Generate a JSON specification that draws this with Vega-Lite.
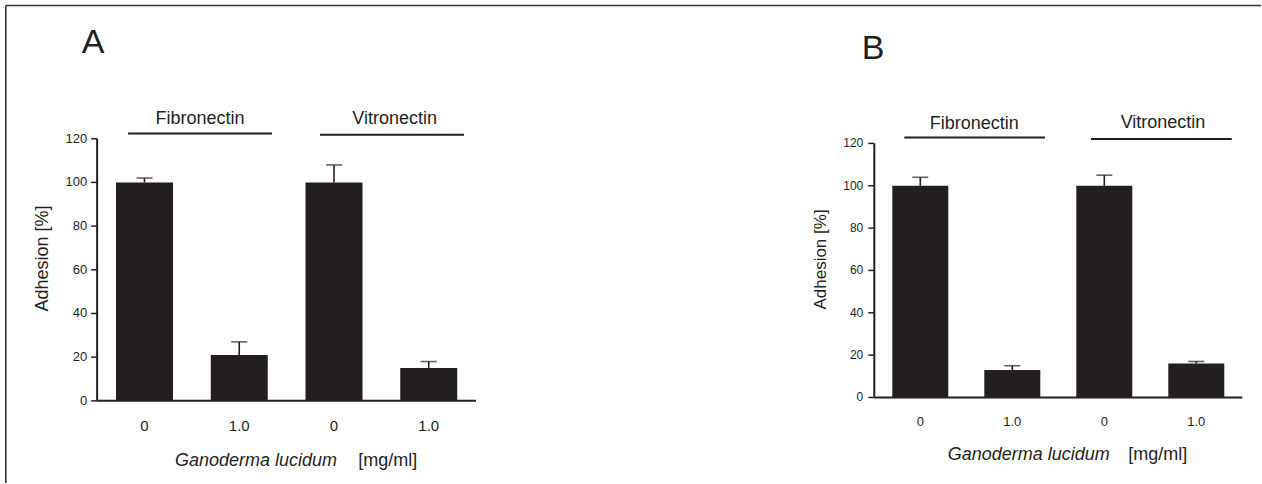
{
  "$schema": "https://vega.github.io/schema/vega-lite/v6.json",
  "width": 1262,
  "height": 484,
  "autosize": {"type": "fit", "contains": "padding"},
  "padding": 0,
  "background": "white",
  "config": {
    "view": {"stroke": null},
    "text": {"font": "Liberation Sans", "color": "#231f20"}
  },
  "datasets": {
    "bars": [
      {"panel": "A", "bar": 1, "matrix": "Fibronectin", "dose": "0", "adhesion": 100, "upper": 102},
      {"panel": "A", "bar": 2, "matrix": "Fibronectin", "dose": "1.0", "adhesion": 21, "upper": 27},
      {"panel": "A", "bar": 3, "matrix": "Vitronectin", "dose": "0", "adhesion": 100, "upper": 108},
      {"panel": "A", "bar": 4, "matrix": "Vitronectin", "dose": "1.0", "adhesion": 15, "upper": 18},
      {"panel": "B", "bar": 1, "matrix": "Fibronectin", "dose": "0", "adhesion": 100, "upper": 104},
      {"panel": "B", "bar": 2, "matrix": "Fibronectin", "dose": "1.0", "adhesion": 13, "upper": 15},
      {"panel": "B", "bar": 3, "matrix": "Vitronectin", "dose": "0", "adhesion": 100, "upper": 105},
      {"panel": "B", "bar": 4, "matrix": "Vitronectin", "dose": "1.0", "adhesion": 16, "upper": 17}
    ],
    "yticks": [
      {"value": 0}, {"value": 20}, {"value": 40}, {"value": 60}, {"value": 80}, {"value": 100}, {"value": 120}
    ],
    "groups": [
      {"panel": "A", "label": "Fibronectin", "from": 0.826, "to": 2.346, "center": 1.586, "line": 122.4, "text": 126.9},
      {"panel": "A", "label": "Vitronectin", "from": 2.852, "to": 4.372, "center": 3.64, "line": 121.8, "text": 126.9},
      {"panel": "B", "label": "Fibronectin", "from": 0.826, "to": 2.355, "center": 1.587, "line": 122.8, "text": 126.9},
      {"panel": "B", "label": "Vitronectin", "from": 2.855, "to": 4.385, "center": 3.638, "line": 122.1, "text": 127.3}
    ],
    "titles": [
      {"panel": "A", "letter": "A", "lx": 0.4565, "ly": 159.15, "yx": -0.0712, "yy": 65.18, "gx": 1.322, "ux": 3.2565, "gy": -29.69},
      {"panel": "B", "letter": "B", "lx": 0.486, "ly": 159.78, "yx": -0.0793, "yy": 65.18, "gx": 1.298, "ux": 3.261, "gy": -29.55}
    ],
    "one": [{"n": 1}]
  },
  "layer": [
    {
      "layer": [
        {
          "data": {"name": "bars"},
          "transform": [{"filter": "datum.panel === 'A'"}],
          "mark": {"type": "bar", "size": 57, "color": "#231f20", "orient": "vertical"},
          "encoding": {
            "x": {"field": "bar", "type": "quantitative", "scale": {"domain": [-0.52507, 12.7942], "nice": false, "zero": false, "padding": 0}, "axis": null},
            "y": {"field": "adhesion", "type": "quantitative", "scale": {"domain": [-37.595, 183.494], "nice": false, "zero": false, "padding": 0}, "axis": null},
            "y2": {"datum": 0}
          }
        },
        {
          "data": {"name": "bars"},
          "transform": [{"filter": "datum.panel === 'A'"}],
          "mark": {"type": "rule", "color": "#231f20", "strokeWidth": 1.6},
          "encoding": {
            "x": {"field": "bar", "type": "quantitative", "scale": {"domain": [-0.52507, 12.7942], "nice": false, "zero": false, "padding": 0}, "axis": null},
            "y": {"field": "adhesion", "type": "quantitative", "scale": {"domain": [-37.595, 183.494], "nice": false, "zero": false, "padding": 0}, "axis": null},
            "y2": {"field": "upper"}
          }
        },
        {
          "data": {"name": "bars"},
          "transform": [{"filter": "datum.panel === 'A'"}],
          "mark": {"type": "tick", "orient": "horizontal", "color": "#231f20", "size": 16, "thickness": 1.6},
          "encoding": {
            "x": {"field": "bar", "type": "quantitative", "scale": {"domain": [-0.52507, 12.7942], "nice": false, "zero": false, "padding": 0}, "axis": null},
            "y": {"field": "upper", "type": "quantitative", "scale": {"domain": [-37.595, 183.494], "nice": false, "zero": false, "padding": 0}, "axis": null}
          }
        },
        {
          "data": {"name": "bars"},
          "transform": [{"filter": "datum.panel === 'A'"}],
          "mark": {"type": "text", "fontSize": 15, "align": "center", "baseline": "middle"},
          "encoding": {
            "x": {"field": "bar", "type": "quantitative", "scale": {"domain": [-0.52507, 12.7942], "nice": false, "zero": false, "padding": 0}, "axis": null},
            "y": {"datum": -11.42, "type": "quantitative", "scale": {"domain": [-37.595, 183.494], "nice": false, "zero": false, "padding": 0}, "axis": null},
            "text": {"field": "dose"}
          }
        },
        {
          "data": {"name": "yticks"},
          "mark": {"type": "rule", "color": "#231f20", "strokeWidth": 1.5},
          "encoding": {
            "x": {"datum": 0.4367, "type": "quantitative", "scale": {"domain": [-0.52507, 12.7942], "nice": false, "zero": false, "padding": 0}, "axis": null},
            "x2": {"datum": 0.5},
            "y": {"field": "value", "type": "quantitative", "scale": {"domain": [-37.595, 183.494], "nice": false, "zero": false, "padding": 0}, "axis": null}
          }
        },
        {
          "data": {"name": "yticks"},
          "mark": {"type": "text", "fontSize": 13, "align": "right", "baseline": "middle"},
          "encoding": {
            "x": {"datum": 0.3945, "type": "quantitative", "scale": {"domain": [-0.52507, 12.7942], "nice": false, "zero": false, "padding": 0}, "axis": null},
            "y": {"field": "value", "type": "quantitative", "scale": {"domain": [-37.595, 183.494], "nice": false, "zero": false, "padding": 0}, "axis": null},
            "text": {"field": "value"}
          }
        },
        {
          "data": {"name": "groups"},
          "transform": [{"filter": "datum.panel === 'A'"}],
          "mark": {"type": "rule", "color": "#231f20", "strokeWidth": 2},
          "encoding": {
            "x": {"field": "from", "type": "quantitative", "scale": {"domain": [-0.52507, 12.7942], "nice": false, "zero": false, "padding": 0}, "axis": null},
            "x2": {"field": "to"},
            "y": {"field": "line", "type": "quantitative", "scale": {"domain": [-37.595, 183.494], "nice": false, "zero": false, "padding": 0}, "axis": null}
          }
        },
        {
          "data": {"name": "groups"},
          "transform": [{"filter": "datum.panel === 'A'"}],
          "mark": {"type": "text", "fontSize": 18, "align": "center", "baseline": "alphabetic"},
          "encoding": {
            "x": {"field": "center", "type": "quantitative", "scale": {"domain": [-0.52507, 12.7942], "nice": false, "zero": false, "padding": 0}, "axis": null},
            "y": {"field": "text", "type": "quantitative", "scale": {"domain": [-37.595, 183.494], "nice": false, "zero": false, "padding": 0}, "axis": null},
            "text": {"field": "label"}
          }
        },
        {
          "data": {"name": "titles"},
          "transform": [{"filter": "datum.panel === 'A'"}],
          "layer": [
            {
              "mark": {"type": "text", "fontSize": 34, "align": "center", "baseline": "alphabetic"},
              "encoding": {
                "x": {"field": "lx", "type": "quantitative", "scale": {"domain": [-0.52507, 12.7942], "nice": false, "zero": false, "padding": 0}, "axis": null},
                "y": {"field": "ly", "type": "quantitative", "scale": {"domain": [-37.595, 183.494], "nice": false, "zero": false, "padding": 0}, "axis": null},
                "text": {"field": "letter"}
              }
            },
            {
              "mark": {"type": "text", "fontSize": 18, "align": "center", "baseline": "middle", "angle": 270, "text": "Adhesion [%]"},
              "encoding": {
                "x": {"field": "yx", "type": "quantitative", "scale": {"domain": [-0.52507, 12.7942], "nice": false, "zero": false, "padding": 0}, "axis": null},
                "y": {"field": "yy", "type": "quantitative", "scale": {"domain": [-37.595, 183.494], "nice": false, "zero": false, "padding": 0}, "axis": null}
              }
            },
            {
              "mark": {"type": "text", "fontSize": 18, "align": "left", "baseline": "alphabetic", "fontStyle": "italic", "text": "Ganoderma lucidum"},
              "encoding": {
                "x": {"field": "gx", "type": "quantitative", "scale": {"domain": [-0.52507, 12.7942], "nice": false, "zero": false, "padding": 0}, "axis": null},
                "y": {"field": "gy", "type": "quantitative", "scale": {"domain": [-37.595, 183.494], "nice": false, "zero": false, "padding": 0}, "axis": null}
              }
            },
            {
              "mark": {"type": "text", "fontSize": 18, "align": "left", "baseline": "alphabetic", "text": "[mg/ml]"},
              "encoding": {
                "x": {"field": "ux", "type": "quantitative", "scale": {"domain": [-0.52507, 12.7942], "nice": false, "zero": false, "padding": 0}, "axis": null},
                "y": {"field": "gy", "type": "quantitative", "scale": {"domain": [-37.595, 183.494], "nice": false, "zero": false, "padding": 0}, "axis": null}
              }
            }
          ]
        },
        {
          "data": {"name": "one"},
          "mark": {"type": "rule", "color": "#231f20", "strokeWidth": 2},
          "encoding": {
            "x": {"datum": 0.5, "type": "quantitative", "scale": {"domain": [-0.52507, 12.7942], "nice": false, "zero": false, "padding": 0}, "axis": null},
            "y": {"datum": 0, "type": "quantitative", "scale": {"domain": [-37.595, 183.494], "nice": false, "zero": false, "padding": 0}, "axis": null},
            "y2": {"datum": 120}
          }
        },
        {
          "data": {"name": "one"},
          "mark": {"type": "rule", "color": "#231f20", "strokeWidth": 2},
          "encoding": {
            "x": {"datum": 0.5, "type": "quantitative", "scale": {"domain": [-0.52507, 12.7942], "nice": false, "zero": false, "padding": 0}, "axis": null},
            "x2": {"datum": 4.5},
            "y": {"datum": 0, "type": "quantitative", "scale": {"domain": [-37.595, 183.494], "nice": false, "zero": false, "padding": 0}, "axis": null}
          }
        },
        {
          "data": {"name": "one"},
          "mark": {"type": "rule", "color": "#333333", "strokeWidth": 1.6},
          "encoding": {
            "x": {"datum": -0.4639, "type": "quantitative", "scale": {"domain": [-0.52507, 12.7942], "nice": false, "zero": false, "padding": 0}, "axis": null},
            "x2": {"datum": 12.785},
            "y": {"datum": 180.98, "type": "quantitative", "scale": {"domain": [-37.595, 183.494], "nice": false, "zero": false, "padding": 0}, "axis": null}
          }
        },
        {
          "data": {"name": "one"},
          "mark": {"type": "rule", "color": "#333333", "strokeWidth": 1.6},
          "encoding": {
            "x": {"datum": -0.4639, "type": "quantitative", "scale": {"domain": [-0.52507, 12.7942], "nice": false, "zero": false, "padding": 0}, "axis": null},
            "y": {"datum": -37.55, "type": "quantitative", "scale": {"domain": [-37.595, 183.494], "nice": false, "zero": false, "padding": 0}, "axis": null},
            "y2": {"datum": 180.98}
          }
        }
      ]
    },
    {
      "layer": [
        {
          "data": {"name": "bars"},
          "transform": [{"filter": "datum.panel === 'B'"}],
          "mark": {"type": "bar", "size": 56, "color": "#231f20", "orient": "vertical"},
          "encoding": {
            "x": {"field": "bar", "type": "quantitative", "scale": {"domain": [-9.00326, 4.71413], "nice": false, "zero": false, "padding": 0}, "axis": null},
            "y": {"field": "adhesion", "type": "quantitative", "scale": {"domain": [-40.39, 187.73], "nice": false, "zero": false, "padding": 0}, "axis": null},
            "y2": {"datum": 0}
          }
        },
        {
          "data": {"name": "bars"},
          "transform": [{"filter": "datum.panel === 'B'"}],
          "mark": {"type": "rule", "color": "#231f20", "strokeWidth": 1.6},
          "encoding": {
            "x": {"field": "bar", "type": "quantitative", "scale": {"domain": [-9.00326, 4.71413], "nice": false, "zero": false, "padding": 0}, "axis": null},
            "y": {"field": "adhesion", "type": "quantitative", "scale": {"domain": [-40.39, 187.73], "nice": false, "zero": false, "padding": 0}, "axis": null},
            "y2": {"field": "upper"}
          }
        },
        {
          "data": {"name": "bars"},
          "transform": [{"filter": "datum.panel === 'B'"}],
          "mark": {"type": "tick", "orient": "horizontal", "color": "#231f20", "size": 16, "thickness": 1.6},
          "encoding": {
            "x": {"field": "bar", "type": "quantitative", "scale": {"domain": [-9.00326, 4.71413], "nice": false, "zero": false, "padding": 0}, "axis": null},
            "y": {"field": "upper", "type": "quantitative", "scale": {"domain": [-40.39, 187.73], "nice": false, "zero": false, "padding": 0}, "axis": null}
          }
        },
        {
          "data": {"name": "bars"},
          "transform": [{"filter": "datum.panel === 'B'"}],
          "mark": {"type": "text", "fontSize": 13, "align": "center", "baseline": "middle"},
          "encoding": {
            "x": {"field": "bar", "type": "quantitative", "scale": {"domain": [-9.00326, 4.71413], "nice": false, "zero": false, "padding": 0}, "axis": null},
            "y": {"datum": -11.64, "type": "quantitative", "scale": {"domain": [-40.39, 187.73], "nice": false, "zero": false, "padding": 0}, "axis": null},
            "text": {"field": "dose"}
          }
        },
        {
          "data": {"name": "yticks"},
          "mark": {"type": "rule", "color": "#231f20", "strokeWidth": 1.5},
          "encoding": {
            "x": {"datum": 0.4348, "type": "quantitative", "scale": {"domain": [-9.00326, 4.71413], "nice": false, "zero": false, "padding": 0}, "axis": null},
            "x2": {"datum": 0.5},
            "y": {"field": "value", "type": "quantitative", "scale": {"domain": [-40.39, 187.73], "nice": false, "zero": false, "padding": 0}, "axis": null}
          }
        },
        {
          "data": {"name": "yticks"},
          "mark": {"type": "text", "fontSize": 12, "align": "right", "baseline": "middle"},
          "encoding": {
            "x": {"datum": 0.3804, "type": "quantitative", "scale": {"domain": [-9.00326, 4.71413], "nice": false, "zero": false, "padding": 0}, "axis": null},
            "y": {"field": "value", "type": "quantitative", "scale": {"domain": [-40.39, 187.73], "nice": false, "zero": false, "padding": 0}, "axis": null},
            "text": {"field": "value"}
          }
        },
        {
          "data": {"name": "groups"},
          "transform": [{"filter": "datum.panel === 'B'"}],
          "mark": {"type": "rule", "color": "#231f20", "strokeWidth": 2},
          "encoding": {
            "x": {"field": "from", "type": "quantitative", "scale": {"domain": [-9.00326, 4.71413], "nice": false, "zero": false, "padding": 0}, "axis": null},
            "x2": {"field": "to"},
            "y": {"field": "line", "type": "quantitative", "scale": {"domain": [-40.39, 187.73], "nice": false, "zero": false, "padding": 0}, "axis": null}
          }
        },
        {
          "data": {"name": "groups"},
          "transform": [{"filter": "datum.panel === 'B'"}],
          "mark": {"type": "text", "fontSize": 18, "align": "center", "baseline": "alphabetic"},
          "encoding": {
            "x": {"field": "center", "type": "quantitative", "scale": {"domain": [-9.00326, 4.71413], "nice": false, "zero": false, "padding": 0}, "axis": null},
            "y": {"field": "text", "type": "quantitative", "scale": {"domain": [-40.39, 187.73], "nice": false, "zero": false, "padding": 0}, "axis": null},
            "text": {"field": "label"}
          }
        },
        {
          "data": {"name": "titles"},
          "transform": [{"filter": "datum.panel === 'B'"}],
          "layer": [
            {
              "mark": {"type": "text", "fontSize": 34, "align": "center", "baseline": "alphabetic"},
              "encoding": {
                "x": {"field": "lx", "type": "quantitative", "scale": {"domain": [-9.00326, 4.71413], "nice": false, "zero": false, "padding": 0}, "axis": null},
                "y": {"field": "ly", "type": "quantitative", "scale": {"domain": [-40.39, 187.73], "nice": false, "zero": false, "padding": 0}, "axis": null},
                "text": {"field": "letter"}
              }
            },
            {
              "mark": {"type": "text", "fontSize": 17, "align": "center", "baseline": "middle", "angle": 270, "text": "Adhesion [%]"},
              "encoding": {
                "x": {"field": "yx", "type": "quantitative", "scale": {"domain": [-9.00326, 4.71413], "nice": false, "zero": false, "padding": 0}, "axis": null},
                "y": {"field": "yy", "type": "quantitative", "scale": {"domain": [-40.39, 187.73], "nice": false, "zero": false, "padding": 0}, "axis": null}
              }
            },
            {
              "mark": {"type": "text", "fontSize": 18, "align": "left", "baseline": "alphabetic", "fontStyle": "italic", "text": "Ganoderma lucidum"},
              "encoding": {
                "x": {"field": "gx", "type": "quantitative", "scale": {"domain": [-9.00326, 4.71413], "nice": false, "zero": false, "padding": 0}, "axis": null},
                "y": {"field": "gy", "type": "quantitative", "scale": {"domain": [-40.39, 187.73], "nice": false, "zero": false, "padding": 0}, "axis": null}
              }
            },
            {
              "mark": {"type": "text", "fontSize": 18, "align": "left", "baseline": "alphabetic", "text": "[mg/ml]"},
              "encoding": {
                "x": {"field": "ux", "type": "quantitative", "scale": {"domain": [-9.00326, 4.71413], "nice": false, "zero": false, "padding": 0}, "axis": null},
                "y": {"field": "gy", "type": "quantitative", "scale": {"domain": [-40.39, 187.73], "nice": false, "zero": false, "padding": 0}, "axis": null}
              }
            }
          ]
        },
        {
          "data": {"name": "one"},
          "mark": {"type": "rule", "color": "#231f20", "strokeWidth": 2},
          "encoding": {
            "x": {"datum": 0.5, "type": "quantitative", "scale": {"domain": [-9.00326, 4.71413], "nice": false, "zero": false, "padding": 0}, "axis": null},
            "y": {"datum": 0, "type": "quantitative", "scale": {"domain": [-40.39, 187.73], "nice": false, "zero": false, "padding": 0}, "axis": null},
            "y2": {"datum": 120}
          }
        },
        {
          "data": {"name": "one"},
          "mark": {"type": "rule", "color": "#231f20", "strokeWidth": 2},
          "encoding": {
            "x": {"datum": 0.5, "type": "quantitative", "scale": {"domain": [-9.00326, 4.71413], "nice": false, "zero": false, "padding": 0}, "axis": null},
            "x2": {"datum": 4.5},
            "y": {"datum": 0, "type": "quantitative", "scale": {"domain": [-40.39, 187.73], "nice": false, "zero": false, "padding": 0}, "axis": null}
          }
        }
      ]
    }
  ],
  "resolve": {"scale": {"x": "independent", "y": "independent"}}
}
